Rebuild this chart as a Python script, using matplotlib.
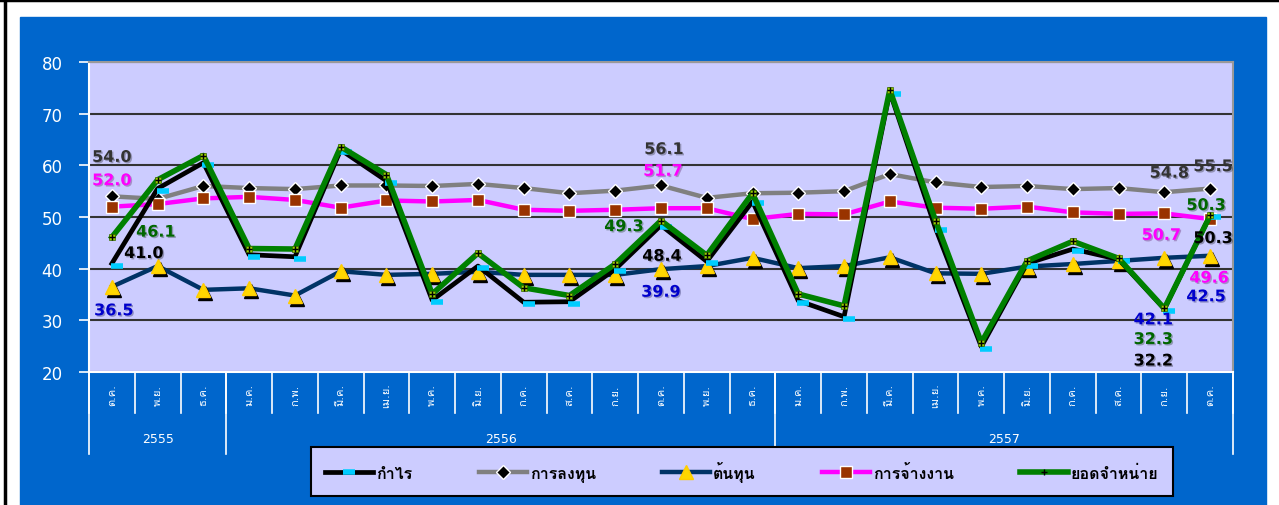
import matplotlib
matplotlib.use("Agg")
import matplotlib.pyplot as plt
import matplotlib.patheffects as pe
from matplotlib import font_manager
from matplotlib.ft2font import FT2Font
from matplotlib.lines import Line2D
from matplotlib.patches import Rectangle
from matplotlib.transforms import offset_copy, blended_transform_factory

# ข้อมูลดัชนี ต.ค. 2555 - ต.ค. 2557
months = ["ต.ค.", "พ.ย.", "ธ.ค.", "ม.ค.", "ก.พ.", "มี.ค.", "เม.ย.", "พ.ค.", "มิ.ย.",
          "ก.ค.", "ส.ค.", "ก.ย.", "ต.ค.", "พ.ย.", "ธ.ค.", "ม.ค.", "ก.พ.", "มี.ค.",
          "เม.ย.", "พ.ค.", "มิ.ย.", "ก.ค.", "ส.ค.", "ก.ย.", "ต.ค."]
years = ["2555", "2556", "2557"]
year_sizes = [3, 12, 10]

profit = [41.0, 55.5, 60.5, 42.7, 42.3, 63.0, 57.0, 33.9, 40.5, 33.5, 33.6, 39.9, 48.4,
          41.4, 53.0, 33.8, 30.7, 74.2, 47.8, 24.9, 41.0, 43.8, 41.8, 32.2, 50.3]
invest = [54.0, 53.5, 56.0, 55.6, 55.4, 56.1, 56.1, 56.0, 56.4, 55.6, 54.6, 55.1, 56.1,
          53.7, 54.6, 54.7, 55.0, 58.3, 56.7, 55.8, 56.0, 55.4, 55.6, 54.8, 55.5]
cost = [36.5, 40.5, 35.9, 36.2, 34.8, 39.5, 38.8, 39.0, 39.4, 38.8, 38.8, 38.8, 39.9,
        40.5, 42.1, 40.1, 40.5, 42.2, 39.1, 39.0, 40.4, 40.9, 41.5, 42.1, 42.5]
employ = [52.0, 52.5, 53.6, 53.9, 53.3, 51.8, 53.2, 53.0, 53.3, 51.4, 51.2, 51.4, 51.7,
          51.7, 49.6, 50.6, 50.5, 53.0, 51.8, 51.6, 52.0, 50.9, 50.6, 50.7, 49.6]
sales = [46.1, 57.2, 61.9, 43.9, 43.8, 63.6, 58.2, 35.1, 43.0, 36.3, 34.8, 40.9, 49.3,
         42.6, 54.6, 35.1, 32.8, 74.6, 49.3, 25.7, 41.5, 45.3, 42.0, 32.3, 50.3]


def thai_font():
    # หาฟอนต์ที่มีอักษรไทย
    for f in font_manager.fontManager.ttflist:
        try:
            if FT2Font(f.fname).get_char_index(0x0E01):
                return f.name
        except Exception:
            pass
    return "DejaVu Sans"


plt.rcParams["font.family"] = ["DejaVu Sans", thai_font()]

fig = plt.figure(figsize=(12.79, 5.06), dpi=100)
fig.patch.set_facecolor("white")
fig.patches.append(Rectangle((20 / 1279, 0), 1246 / 1279, 488 / 506,
                             transform=fig.transFigure, color="#0066CC", zorder=-1))
fig.add_artist(Line2D([5 / 1279, 5 / 1279], [0, 1], color="black", lw=2.5,
                      transform=fig.transFigure))
fig.add_artist(Line2D([0, 1], [1 - 1 / 506, 1 - 1 / 506], color="black", lw=2.5,
                      transform=fig.transFigure))

ax = fig.add_axes([89 / 1279, 1 - 373 / 506, 1144 / 1279, 310 / 506])
ax.set_zorder(2)
ax.set_facecolor("#CCCCFF")
x = list(range(len(months)))

# เส้นข้อมูล
ax.plot(x, invest, color="#808080", lw=3.2, zorder=3)
ax.plot(x, invest, ls="none", marker="D", ms=7, mfc="black", mec="white", mew=1, zorder=3)
ax.plot(x, employ, color="#FF00FF", lw=3.2, zorder=4)
ax.plot(x, employ, ls="none", marker="s", ms=8.5, mfc="#993300", mec="white", mew=1, zorder=4)
ax.plot(x, cost, color="#003366", lw=3.2, zorder=5)
shadow = offset_copy(ax.transData, fig=fig, x=2, y=-3, units="dots")
ax.plot(x, cost, ls="none", marker="^", ms=9.5, color="black", transform=shadow, zorder=5)
ax.plot(x, cost, ls="none", marker="^", ms=9.5, color="#FFD700", mec="#FFCC00", zorder=5)
ax.plot(x, profit, color="black", lw=3.4, zorder=6)
dash = offset_copy(ax.transData, fig=fig, x=5, y=-2, units="dots")
ax.plot(x, profit, ls="none", marker="_", ms=9, mew=4, color="#00CCFF",
        transform=dash, zorder=6)
ax.plot(x, sales, color="#008000", lw=4, zorder=7)
ax.plot(x, sales, ls="none", marker="s", ms=5, mfc="#99CC00", mec="#336600", mew=0.5, zorder=7)
ax.plot(x, sales, ls="none", marker="+", ms=5, color="black", mew=1, zorder=7)

ax.set_xlim(-0.5, len(months) - 0.5)
ax.set_ylim(20, 80)
ax.set_yticks(range(20, 81, 10))
ax.grid(axis="y", color="#333333", lw=1.5, zorder=1)
ax.tick_params(axis="y", colors="white", labelsize=12, length=7, width=1.2, pad=12)
ax.set_xticks([])
ax.spines["left"].set_color("white")
ax.spines["bottom"].set_color("white")
ax.spines["top"].set_color("#999999")
ax.spines["right"].set_color("#999999")
for s in ax.spines.values():
    s.set_linewidth(1.5)

# แกน x สองระดับ
trans = blended_transform_factory(ax.transData, ax.transAxes)
for i, m in enumerate(months):
    ax.text(i, -0.072, m, rotation=90, ha="center", va="center", color="white",
            fontsize=8, transform=trans)
for i in range(len(months) + 1):
    ax.plot([i - 0.5, i - 0.5], [0, -0.133], color="white", lw=1.2,
            transform=trans, clip_on=False)
start = 0
for yr, n in zip(years, year_sizes):
    ax.plot([start - 0.5, start - 0.5], [0, -0.265], color="white", lw=1.2,
            transform=trans, clip_on=False)
    ax.text(start + (n - 1) / 2, -0.216, yr, ha="center", va="center", color="white",
            fontsize=9, transform=trans)
    start += n
ax.plot([start - 0.5, start - 0.5], [0, -0.265], color="white", lw=1.2,
        transform=trans, clip_on=False)

# ป้ายตัวเลข
label_series = [invest, employ, sales, profit, cost,
                invest, employ, sales, profit, cost,
                invest, invest, sales, employ, profit, employ, cost, cost, sales, profit]
label_index = [0, 0, 0, 0, 0, 12, 12, 12, 12, 12, 23, 24, 24, 23, 24, 24, 24, 23, 23, 23]
label_dx = [0, 0, 44, 32, 2, 3, 2, -37, 1, 0, 5, 3, -4, -3, 3, -1, -4, -11, -11, -11]
label_dy = [39, 26, 5, 10, -24, 36, 37, -6, -31, -23, 19, 22, 10, -22, -23, -59, -41, -62, -31, -52]
label_color = ["#333333", "#FF00FF", "#006600", "black", "#0000CC",
               "#333333", "#FF00FF", "#006600", "black", "#0000CC",
               "#333333", "#333333", "#006600", "#FF00FF", "black", "#FF00FF",
               "#0000CC", "#0000CC", "#006600", "black"]
for ser, i, dx, dy, c in zip(label_series, label_index, label_dx, label_dy, label_color):
    ax.annotate(f"{ser[i]:.1f}", xy=(i, ser[i]), xytext=(dx, dy),
                textcoords="offset pixels", ha="center", va="center", color=c,
                fontsize=11.5, fontweight="bold", zorder=10,
                path_effects=[pe.withSimplePatchShadow(offset=(1, -1), alpha=0.3)])

# คำอธิบาย
handles = [
    Line2D([], [], color="black", lw=3.4, marker="_", ms=9, mew=4, mec="#00CCFF"),
    Line2D([], [], color="#808080", lw=3.2, marker="D", ms=7, mfc="black", mec="white"),
    Line2D([], [], color="#003366", lw=3.2, marker="^", ms=9.5, mfc="#FFD700", mec="#FFCC00"),
    Line2D([], [], color="#FF00FF", lw=3.2, marker="s", ms=8.5, mfc="#993300", mec="white"),
    Line2D([], [], color="#008000", lw=4, marker="+", ms=5, mec="black"),
]
names = ["กำไร", "การลงทุน", "ต้นทุน", "การจ้างงาน", "ยอดจำหน่าย"]
leg = fig.legend(handles, names, loc="center", ncol=5, mode="expand",
                 bbox_to_anchor=(303 / 1279, 13 / 506, 878 / 1279, 41 / 506),
                 frameon=True, fancybox=False, facecolor="#CCCCFF", edgecolor="black",
                 handlelength=3, handletextpad=0.2, borderpad=0.9,
                 prop={"size": 11.5, "weight": "bold"})
leg.get_frame().set_linewidth(1.5)
leg.get_frame().set_alpha(1)

fig.savefig("out.png", dpi=100)
